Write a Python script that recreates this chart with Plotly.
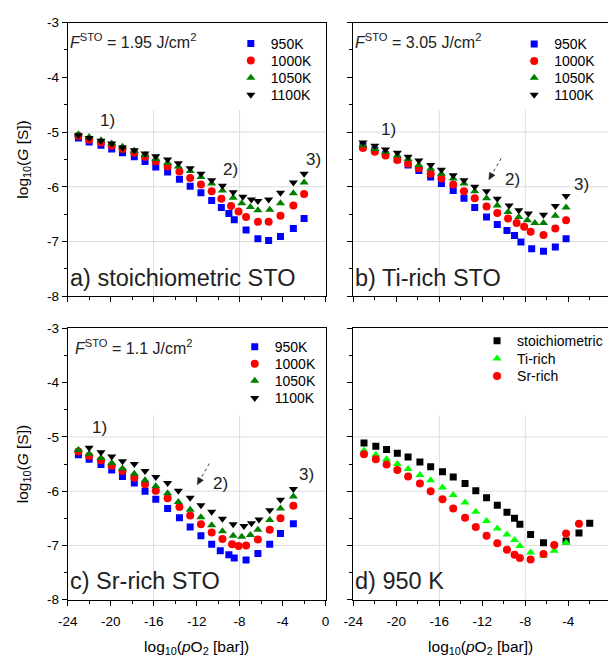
import math
import plotly.graph_objects as go

# ---------------- data (log10 pO2 [bar], log10 G [S]) ----------------
# Panel a) stoichiometric STO
A_950_x = [-23.0,-22.0,-20.9,-19.9,-18.9,-17.8,-16.8,-15.8,-14.7,-13.6,-12.6,-11.6,-10.6,-9.7,-9.0,-8.5,-7.4,-6.3,-5.3,-4.2,-3.0,-2.0]
A_950_y = [-5.11,-5.18,-5.24,-5.31,-5.38,-5.45,-5.54,-5.64,-5.73,-5.86,-5.99,-6.11,-6.25,-6.38,-6.49,-6.60,-6.79,-6.95,-6.98,-6.91,-6.76,-6.58]
A_1000_x = [-23.0,-22.0,-20.9,-19.9,-18.9,-17.8,-16.8,-15.8,-14.7,-13.6,-12.6,-11.6,-10.6,-9.7,-8.8,-8.1,-7.4,-6.3,-5.3,-4.2,-3.0,-2.0]
A_1000_y = [-5.07,-5.14,-5.19,-5.25,-5.31,-5.38,-5.45,-5.54,-5.63,-5.72,-5.84,-5.96,-6.08,-6.22,-6.35,-6.45,-6.55,-6.64,-6.64,-6.53,-6.34,-6.13]
A_1050_x = [-23.0,-22.0,-20.9,-19.9,-18.9,-17.8,-16.8,-15.8,-14.7,-13.7,-12.6,-11.6,-10.6,-9.6,-8.6,-7.8,-7.0,-6.3,-5.2,-4.2,-3.0,-2.0]
A_1050_y = [-5.04,-5.09,-5.15,-5.21,-5.27,-5.34,-5.42,-5.49,-5.56,-5.63,-5.71,-5.82,-5.94,-6.07,-6.20,-6.30,-6.37,-6.43,-6.42,-6.30,-6.12,-5.92]
A_1100_x = [-23.0,-22.0,-20.9,-19.9,-18.9,-17.8,-16.8,-15.8,-14.7,-13.7,-12.6,-11.6,-10.6,-9.6,-8.6,-7.7,-6.9,-6.3,-5.3,-4.2,-3.0,-2.0]
A_1100_y = [-5.06,-5.11,-5.16,-5.21,-5.28,-5.33,-5.39,-5.44,-5.50,-5.57,-5.66,-5.76,-5.88,-5.98,-6.10,-6.18,-6.23,-6.26,-6.23,-6.11,-5.92,-5.76]

# Panel b) Ti-rich STO
B_950_x = [-23.1,-22.0,-21.0,-19.9,-18.9,-17.9,-16.8,-15.8,-14.7,-13.7,-12.7,-11.6,-10.6,-9.7,-9.0,-8.4,-7.4,-6.3,-5.2,-4.2]
B_950_y = [-5.26,-5.33,-5.41,-5.50,-5.60,-5.70,-5.82,-5.94,-6.07,-6.21,-6.38,-6.55,-6.69,-6.80,-6.89,-7.01,-7.13,-7.18,-7.10,-6.95]
B_1000_x = [-23.1,-22.0,-21.0,-19.9,-18.9,-17.9,-16.8,-15.8,-14.7,-13.7,-12.7,-11.6,-10.6,-9.6,-8.8,-8.1,-7.5,-6.3,-5.2,-4.2]
B_1000_y = [-5.29,-5.36,-5.43,-5.51,-5.58,-5.66,-5.76,-5.85,-5.96,-6.08,-6.21,-6.36,-6.48,-6.58,-6.66,-6.73,-6.82,-6.88,-6.76,-6.61]
B_1050_x = [-23.1,-22.0,-21.0,-19.9,-18.9,-17.9,-16.8,-15.8,-14.7,-13.7,-12.7,-11.6,-10.6,-9.6,-8.6,-7.8,-7.1,-6.3,-5.2,-4.2]
B_1050_y = [-5.24,-5.31,-5.36,-5.43,-5.49,-5.60,-5.67,-5.76,-5.85,-5.94,-6.08,-6.21,-6.34,-6.46,-6.55,-6.61,-6.66,-6.66,-6.53,-6.38]
B_1100_x = [-23.1,-22.0,-21.0,-19.9,-18.9,-17.9,-16.8,-15.8,-14.7,-13.7,-12.7,-11.6,-10.6,-9.5,-8.6,-7.7,-6.3,-5.2,-4.2]
B_1100_y = [-5.19,-5.25,-5.32,-5.38,-5.45,-5.52,-5.60,-5.69,-5.79,-5.88,-6.00,-6.08,-6.22,-6.34,-6.43,-6.49,-6.51,-6.35,-6.17]

# Panel c) Sr-rich STO
C_950_x = [-23.0,-22.0,-20.9,-19.9,-18.9,-17.8,-16.8,-15.8,-14.7,-13.6,-12.6,-11.6,-10.6,-9.8,-9.0,-8.5,-7.4,-6.3,-5.2,-4.2,-3.0]
C_950_y = [-5.33,-5.41,-5.51,-5.61,-5.73,-5.85,-6.00,-6.15,-6.32,-6.49,-6.66,-6.82,-6.98,-7.10,-7.17,-7.23,-7.27,-7.15,-6.98,-6.78,-6.60]
C_1000_x = [-23.0,-22.0,-20.9,-19.9,-18.9,-17.8,-16.8,-15.8,-14.7,-13.6,-12.6,-11.6,-10.6,-9.6,-8.7,-8.1,-7.4,-6.3,-5.2,-4.2,-3.0]
C_1000_y = [-5.27,-5.35,-5.43,-5.53,-5.63,-5.75,-5.87,-5.99,-6.13,-6.29,-6.45,-6.61,-6.76,-6.88,-6.98,-7.01,-7.00,-6.89,-6.71,-6.50,-6.27]
C_1050_x = [-23.0,-22.0,-20.9,-19.9,-18.9,-17.8,-16.8,-15.8,-14.7,-13.7,-12.6,-11.6,-10.6,-9.6,-8.6,-7.8,-7.0,-6.3,-5.2,-4.2,-3.0]
C_1050_y = [-5.24,-5.31,-5.39,-5.48,-5.58,-5.68,-5.80,-5.91,-6.04,-6.20,-6.34,-6.48,-6.63,-6.74,-6.82,-6.84,-6.81,-6.71,-6.53,-6.32,-6.10]
C_1100_x = [-22.0,-20.9,-19.9,-18.9,-17.8,-16.8,-15.8,-14.7,-13.7,-12.6,-11.6,-10.6,-9.6,-8.6,-7.6,-6.9,-6.2,-5.2,-4.2,-3.0]
C_1100_y = [-5.20,-5.28,-5.36,-5.45,-5.50,-5.63,-5.74,-5.85,-5.99,-6.12,-6.26,-6.38,-6.51,-6.61,-6.64,-6.59,-6.52,-6.35,-6.16,-5.96]

# Panel d) 950 K comparison
D_STO_x = [-23.0,-21.9,-20.9,-19.9,-18.9,-17.8,-16.8,-15.7,-14.7,-13.6,-12.6,-11.6,-10.6,-9.7,-9.0,-8.5,-7.5,-6.3,-4.2,-3.0,-2.0]
D_STO_y = [-5.11,-5.17,-5.23,-5.30,-5.37,-5.46,-5.55,-5.64,-5.74,-5.86,-5.99,-6.12,-6.26,-6.39,-6.50,-6.61,-6.80,-6.95,-6.92,-6.77,-6.59]
D_TI_x = [-23.0,-21.9,-20.9,-19.9,-18.9,-17.8,-16.8,-15.7,-14.7,-13.6,-12.6,-11.6,-10.6,-9.7,-9.0,-8.5,-7.5,-6.3,-5.3,-4.2]
D_TI_y = [-5.25,-5.33,-5.41,-5.50,-5.59,-5.70,-5.80,-5.93,-6.07,-6.21,-6.38,-6.55,-6.69,-6.80,-6.90,-7.01,-7.13,-7.19,-7.10,-6.95]
D_SR_x = [-23.0,-21.9,-20.9,-19.9,-18.9,-17.8,-16.8,-15.7,-14.7,-13.6,-12.6,-11.6,-10.6,-9.7,-9.0,-8.5,-7.5,-6.3,-5.3,-4.2,-3.0]
D_SR_y = [-5.32,-5.41,-5.51,-5.61,-5.73,-5.86,-6.00,-6.15,-6.32,-6.49,-6.66,-6.82,-6.96,-7.08,-7.17,-7.23,-7.26,-7.16,-6.99,-6.78,-6.60]

TEMP_LABELS = ["950K", "1000K", "1050K", "1100K"]
COMP_LABELS = ["stoichiometric", "Ti-rich", "Sr-rich"]
X_TICKS = [-24, -20, -16, -12, -8, -4, 0]
X_TICK_LABELS = ["-24", "-20", "-16", "-12", "-8", "-4", "0"]
Y_TICKS = [-8, -7, -6, -5, -4, -3]
Y_TICK_LABELS = ["-8", "-7", "-6", "-5", "-4", "-3"]
PANEL_TITLES = ["a) stoichiometric STO", "b) Ti-rich STO", "c) Sr-rich STO", "d) 950 K"]
FLUENCE = ["1.95", "3.05", "1.1"]

# ---------------- styling / layout ----------------
W, H = 612, 657
FONT = "Arial, Liberation Sans, sans-serif"
GRID = "#dcdcdc"
px = lambda p: p / W
py = lambda p: 1 - p / H

PPU = 11.0  # pixels per x-unit
TEMP_STYLE = [("square", "#0000ff", 7), ("circle", "#ff0000", 8),
              ("triangle-up", "#008000", 8), ("triangle-down", "#000000", 8)]
COMP_STYLE = [("square", "#000000", 7), ("triangle-up", "#00ff00", 8), ("circle", "#ff0000", 8)]

panels = [
    dict(ax="", xdom=(59, 323), ydom=(16, 296)),
    dict(ax="2", xdom=(351.3, 612), ydom=(16, 296)),
    dict(ax="3", xdom=(59, 323), ydom=(329, 606.5)),
    dict(ax="4", xdom=(351.3, 612), ydom=(329, 606.5)),
]
# legend: (marker centre x px, first row centre y px, row step px)
legend_pos = [(247, 37.7, 17.5), (537, 38.3, 17.3), (251, 348, 17.5), (499, 342, 18)]

series = [
    [(A_950_x, A_950_y), (A_1000_x, A_1000_y), (A_1050_x, A_1050_y), (A_1100_x, A_1100_y)],
    [(B_950_x, B_950_y), (B_1000_x, B_1000_y), (B_1050_x, B_1050_y), (B_1100_x, B_1100_y)],
    [(C_950_x, C_950_y), (C_1000_x, C_1000_y), (C_1050_x, C_1050_y), (C_1100_x, C_1100_y)],
    [(D_STO_x, D_STO_y), (D_TI_x, D_TI_y), (D_SR_x, D_SR_y)],
]

fig = go.Figure()
layout = {}
legend_count = 0
for i, p in enumerate(panels):
    names = COMP_LABELS if i == 3 else TEMP_LABELS
    styles = COMP_STYLE if i == 3 else TEMP_STYLE
    lx, ly, step = legend_pos[i]
    for k, ((xs, ys), name, (sym, col, sz)) in enumerate(zip(series[i], names, styles)):
        legend_count += 1
        lname = "legend" if legend_count == 1 else f"legend{legend_count}"
        fig.add_trace(go.Scatter(
            x=xs, y=ys, mode="markers", name=name,
            marker=dict(symbol=sym, color=col, size=sz, line=dict(width=0)),
            xaxis="x" + p["ax"], yaxis="y" + p["ax"], legend=lname, showlegend=True))
        layout[lname] = dict(x=px(lx - 21), y=py(ly + k * step), xanchor="left", yanchor="middle",
                             bgcolor="rgba(0,0,0,0)", borderwidth=0,
                             font=dict(family=FONT, size=14, color="black"))

    right_cut = p["xdom"][1] >= W
    x0, x1 = p["xdom"]
    xr = [-24, -24 + (x1 - x0) / PPU]
    bottom = i >= 2
    left = i % 2 == 0
    xa = dict(
        domain=[px(x0), px(x1)], range=xr, anchor="y" + p["ax"],
        showline=True, linecolor="black", linewidth=1, mirror=True,
        tickmode="array", tickvals=X_TICKS, ticktext=X_TICK_LABELS,
        ticks="outside", ticklen=5, tickwidth=1, tickcolor="black",
        showticklabels=bottom, ticklabelstandoff=4,
        tickfont=dict(family=FONT, size=13.5, color="black"),
        minor=dict(tickmode="array", tickvals=list(range(-22, 1, 4)), ticks="outside", ticklen=3,
                   tickwidth=1, tickcolor="black", showgrid=False),
        showgrid=False, zeroline=False,
    )
    if bottom:
        xa["title"] = dict(text="log<sub>10</sub>(<i>p</i>O<sub>2</sub> [bar])",
                           font=dict(family=FONT, size=15.5, color="black"), standoff=14)
    ya = dict(
        domain=[py(p["ydom"][1]), py(p["ydom"][0])], range=[-8, -3], anchor="x" + p["ax"],
        showline=True, linecolor="black", linewidth=1, mirror=(not right_cut),
        tickmode="array", tickvals=Y_TICKS, ticktext=Y_TICK_LABELS,
        ticks="outside", ticklen=5, tickwidth=1, tickcolor="black",
        showticklabels=left, tickfont=dict(family=FONT, size=13.5, color="black"),
        minor=dict(tickmode="array", tickvals=[-7.5, -6.5, -5.5, -4.5, -3.5], ticks="outside",
                   ticklen=3, tickwidth=1, tickcolor="black", showgrid=False),
        showgrid=False, zeroline=False,
    )
    if left:
        ya["title"] = dict(text="log<sub>10</sub>(<i>G</i> [S])",
                           font=dict(family=FONT, size=15.5, color="black"), standoff=14)
    layout["xaxis" + p["ax"]] = xa
    layout["yaxis" + p["ax"]] = ya

shapes = []
annotations = []
for i, p in enumerate(panels):
    xa, ya = "x" + p["ax"], "y" + p["ax"]
    for gy in (-5, -6, -7):
        shapes.append(dict(type="line", xref=xa + " domain", yref=ya, x0=0, x1=1, y0=gy, y1=gy,
                           line=dict(color=GRID, width=1), layer="below"))
    for gx in (-16, -8):
        shapes.append(dict(type="line", xref=xa, yref=ya, x0=gx, x1=gx, y0=-8, y1=-4.6,
                           line=dict(color=GRID, width=1), layer="below"))
    # panel label
    annotations.append(dict(text=PANEL_TITLES[i], xref=xa, yref=ya, x=-24.0, y=-7.66,
                            xanchor="left", yanchor="middle", showarrow=False,
                            font=dict(family=FONT, size=23.5, color="#222222")))
    if i < 3:
        annotations.append(dict(text=f"<i>F</i><sup>STO</sup> = {FLUENCE[i]} J/cm<sup>2</sup>",
                                xref=xa, yref=ya, x=-24.0 if i != 2 else -23.5, y=-3.34,
                                xanchor="left", yanchor="middle", showarrow=False,
                                font=dict(family=FONT, size=16, color="#222222")))

marks = [
    [(-20.27, -4.79, "1)"), (-8.86, -5.68, "2)"), (-1.14, -5.50, "3)")],
    [(-20.71, -4.96, "1)"), (-9.21, -5.86, "2)"), (-2.75, -5.95, "3)")],
    [(-21.0, -4.83, "1)"), (-9.82, -5.86, "2)"), (-1.79, -5.70, "3)")],
]
for i, lst in enumerate(marks):
    xa, ya = "x" + panels[i]["ax"], "y" + panels[i]["ax"]
    for (mx, my, t) in lst:
        annotations.append(dict(text=t, xref=xa, yref=ya, x=mx, y=my, showarrow=False,
                                xanchor="center", yanchor="middle",
                                font=dict(family=FONT, size=17, color="#222222")))

# dotted arrows pointing to region 2): (panel, tail, head, y pixels per unit)
arrows = [(1, (-10.24, -5.48), (-11.39, -5.87), 56.0), (2, (-10.82, -5.49), (-11.94, -5.88), 55.5)]
for i, (tx, ty), (hx, hy), ppy in arrows:
    xa, ya = "x" + panels[i]["ax"], "y" + panels[i]["ax"]
    dx, dy = (hx - tx) * PPU, (hy - ty) * ppy
    L = math.hypot(dx, dy)
    ux, uy = dx / L, dy / L
    hl, hw = 7.0, 3.2
    bx, by = -ux * hl, -uy * hl
    nx, ny = -uy * hw, ux * hw
    pts = [(0, 0), (bx + nx, by + ny), (bx - nx, by - ny)]
    path = "M " + " L ".join(f"{hx + qx / PPU:.4f},{hy + qy / ppy:.4f}" for qx, qy in pts) + " Z"
    shapes.append(dict(type="line", xref=xa, yref=ya, x0=tx, y0=ty,
                       x1=hx + bx / PPU, y1=hy + by / ppy,
                       line=dict(color="#444444", width=1, dash="dot")))
    shapes.append(dict(type="path", xref=xa, yref=ya, path=path,
                       fillcolor="#222222", line=dict(color="#222222", width=0.5)))

fig.update_layout(
    width=W, height=H, margin=dict(l=0, r=0, t=0, b=0),
    paper_bgcolor="white", plot_bgcolor="white",
    font=dict(family=FONT, color="black"),
    shapes=shapes, annotations=annotations, **layout,
)
fig.write_html("out.html")
